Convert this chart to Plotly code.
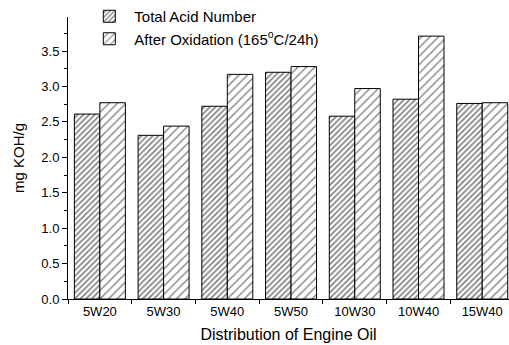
import plotly.graph_objects as go

categories = ["5W20", "5W30", "5W40", "5W50", "10W30", "10W40", "15W40"]
tan_values = [2.61, 2.31, 2.72, 3.20, 2.58, 2.82, 2.76]
after_values = [2.77, 2.44, 3.17, 3.28, 2.97, 3.71, 2.77]
y_ticks = [0.0, 0.5, 1.0, 1.5, 2.0, 2.5, 3.0, 3.5]

FONT = "Liberation Sans, Arial, sans-serif"

fig = go.Figure()
fig.add_trace(go.Bar(
    x=categories, y=tan_values, name="Total Acid Number",
    marker=dict(color="white", line=dict(color="black", width=1),
                pattern=dict(shape="/", size=4, solidity=0.4, fgcolor="black", bgcolor="white", fillmode="overlay")),
))
fig.add_trace(go.Bar(
    x=categories, y=after_values, name="After Oxidation (165<sup>o</sup>C/24h)",
    marker=dict(color="white", line=dict(color="black", width=1),
                pattern=dict(shape="/", size=6, solidity=0.22, fgcolor="black", bgcolor="white", fillmode="overlay")),
))

fig.update_layout(
    width=509, height=345,
    margin=dict(l=68, r=0, t=16, b=46),
    paper_bgcolor="white", plot_bgcolor="white",
    barmode="group", bargap=0.2, bargroupgap=0,
    font=dict(family=FONT, color="black", size=13),
    showlegend=True,
    legend=dict(x=0.037, y=1.06, xanchor="left", yanchor="top",
                bgcolor="rgba(0,0,0,0)", font=dict(size=15, family=FONT),
                itemwidth=40, tracegroupgap=0),
)
fig.update_xaxes(
    range=[-0.5, 6.42], showline=True, linecolor="black", linewidth=1,
    ticks="outside", tickson="boundaries", ticklen=4, tickcolor="black",
    showgrid=False, zeroline=False, automargin=False,
    title=dict(text="Distribution of Engine Oil", font=dict(size=16), standoff=11),
    tickfont=dict(size=13),
)
fig.update_yaxes(
    range=[0, 3.98], showline=True, linecolor="black", linewidth=1,
    tickvals=y_ticks, tickformat=".1f",
    ticks="outside", ticklen=5, tickcolor="black",
    minor=dict(dtick=0.25, tick0=0, ticks="outside", ticklen=3, tickcolor="black"),
    showgrid=False, zeroline=False, automargin=False,
    title=dict(text="mg KOH/g", font=dict(size=15), standoff=13),
    tickfont=dict(size=13),
)

fig.write_html(
    "out.html",
    config={"responsive": False, "displayModeBar": False},
    post_script="document.body.style.margin='0';document.body.style.overflow='hidden';",
)
